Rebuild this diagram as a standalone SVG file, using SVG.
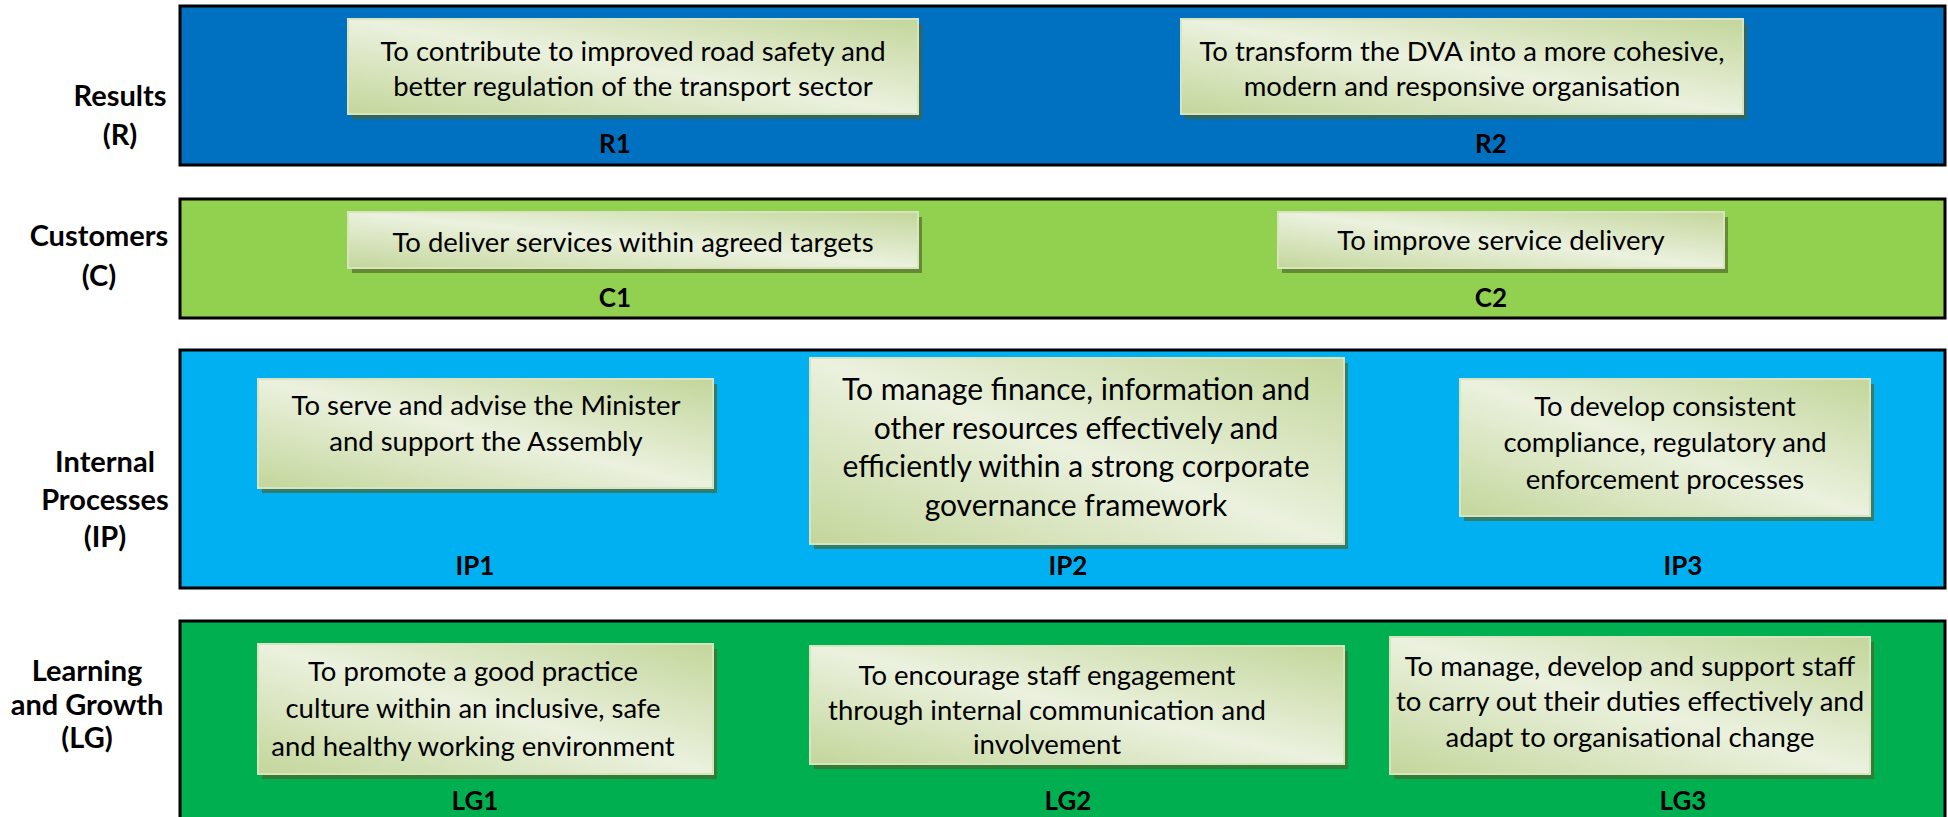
<svg xmlns="http://www.w3.org/2000/svg" width="1948" height="817" viewBox="0 0 1948 817">
<defs>
<linearGradient id="boxg" x1="1" y1="0" x2="0" y2="1">
<stop offset="0" stop-color="#c3d69b"/>
<stop offset="0.5" stop-color="#ebf1de"/>
<stop offset="1" stop-color="#c3d69b"/>
</linearGradient>
</defs>
<style>
.band{stroke:#000;stroke-width:3}
.box{fill:url(#boxg);stroke:#d7e4bd;stroke-width:2}
.sh{fill:#4f6228;opacity:0.65}
.t{font-family:Lato,"Liberation Sans",sans-serif;font-size:27.5px;fill:#000;text-anchor:middle}
.t2{font-family:Lato,"Liberation Sans",sans-serif;font-size:30px;fill:#000;text-anchor:middle}
.lab{font-family:Lato,"Liberation Sans",sans-serif;font-size:26px;font-weight:bold;fill:#000;text-anchor:middle}
.side{font-family:Lato,"Liberation Sans",sans-serif;font-size:29px;font-weight:bold;fill:#000;text-anchor:middle}
</style>
<rect width="1948" height="817" fill="#fff"/>
<g id="band-R">
<rect class="band" x="180" y="6" width="1765" height="159" fill="#0070C0"/>
<text class="side" x="120" y="106">Results</text>
<text class="side" x="120" y="145">(R)</text>
</g>
<g id="band-C">
<rect class="band" x="180" y="199" width="1765" height="119" fill="#92D050"/>
<text class="side" x="99" y="246">Customers</text>
<text class="side" x="99" y="286">(C)</text>
</g>
<g id="band-IP">
<rect class="band" x="180" y="350" width="1765" height="238" fill="#00B0F0"/>
<text class="side" x="105" y="472">Internal</text>
<text class="side" x="105" y="510">Processes</text>
<text class="side" x="105" y="547">(IP)</text>
</g>
<g id="band-LG">
<rect class="band" x="180" y="621" width="1765" height="210" fill="#00B050"/>
<text class="side" x="87" y="681">Learning</text>
<text class="side" x="87" y="715">and Growth</text>
<text class="side" x="87" y="748">(LG)</text>
</g>
<g id="R1">
<rect class="sh" x="352" y="24" width="570" height="95"/>
<rect class="box" x="348" y="19" width="570" height="95"/>
<text class="t" x="633" y="61">To contribute to improved road safety and</text>
<text class="t" x="633" y="96">better regulation of the transport sector</text>
<text class="lab" x="615" y="153">R1</text>
</g>
<g id="R2">
<rect class="sh" x="1185" y="24" width="562" height="95"/>
<rect class="box" x="1181" y="19" width="562" height="95"/>
<text class="t" x="1462" y="61">To transform the DVA into a more cohesive,</text>
<text class="t" x="1462" y="96">modern and responsive organisation</text>
<text class="lab" x="1491" y="153">R2</text>
</g>
<g id="C1">
<rect class="sh" x="352" y="217" width="570" height="56"/>
<rect class="box" x="348" y="212" width="570" height="56"/>
<text class="t" x="633" y="252">To deliver services within agreed targets</text>
<text class="lab" x="615" y="307">C1</text>
</g>
<g id="C2">
<rect class="sh" x="1282" y="217" width="446" height="56"/>
<rect class="box" x="1278" y="212" width="446" height="56"/>
<text class="t" x="1501" y="250">To improve service delivery</text>
<text class="lab" x="1491" y="307">C2</text>
</g>
<g id="IP1">
<rect class="sh" x="262" y="384" width="455" height="109"/>
<rect class="box" x="258" y="379" width="455" height="109"/>
<text class="t" x="486" y="415">To serve and advise the Minister</text>
<text class="t" x="486" y="451">and support the Assembly</text>
<text class="lab" x="475" y="575">IP1</text>
</g>
<g id="IP2">
<rect class="sh" x="814" y="363" width="534" height="186"/>
<rect class="box" x="810" y="358" width="534" height="186"/>
<text class="t2" x="1076" y="400">To manage finance, information and</text>
<text class="t2" x="1076" y="439">other resources effectively and</text>
<text class="t2" x="1076" y="477">efficiently within a strong corporate</text>
<text class="t2" x="1076" y="516">governance framework</text>
<text class="lab" x="1068" y="575">IP2</text>
</g>
<g id="IP3">
<rect class="sh" x="1464" y="384" width="410" height="137"/>
<rect class="box" x="1460" y="379" width="410" height="137"/>
<text class="t" x="1665" y="416">To develop consistent</text>
<text class="t" x="1665" y="452">compliance, regulatory and</text>
<text class="t" x="1665" y="489">enforcement processes</text>
<text class="lab" x="1683" y="575">IP3</text>
</g>
<g id="LG1">
<rect class="sh" x="262" y="649" width="455" height="130"/>
<rect class="box" x="258" y="644" width="455" height="130"/>
<text class="t" x="473" y="681">To promote a good practice</text>
<text class="t" x="473" y="718">culture within an inclusive, safe</text>
<text class="t" x="473" y="756">and healthy working environment</text>
<text class="lab" x="475" y="810">LG1</text>
</g>
<g id="LG2">
<rect class="sh" x="814" y="651" width="534" height="118"/>
<rect class="box" x="810" y="646" width="534" height="118"/>
<text class="t" x="1047" y="685">To encourage staff engagement</text>
<text class="t" x="1047" y="720">through internal communication and</text>
<text class="t" x="1047" y="754">involvement</text>
<text class="lab" x="1068" y="810">LG2</text>
</g>
<g id="LG3">
<rect class="sh" x="1394" y="642" width="480" height="137"/>
<rect class="box" x="1390" y="637" width="480" height="137"/>
<text class="t" x="1630" y="676">To manage, develop and support staff</text>
<text class="t" x="1630" y="711">to carry out their duties effectively and</text>
<text class="t" x="1630" y="747">adapt to organisational change</text>
<text class="lab" x="1683" y="810">LG3</text>
</g>
<g id="connectors"></g>
</svg>
